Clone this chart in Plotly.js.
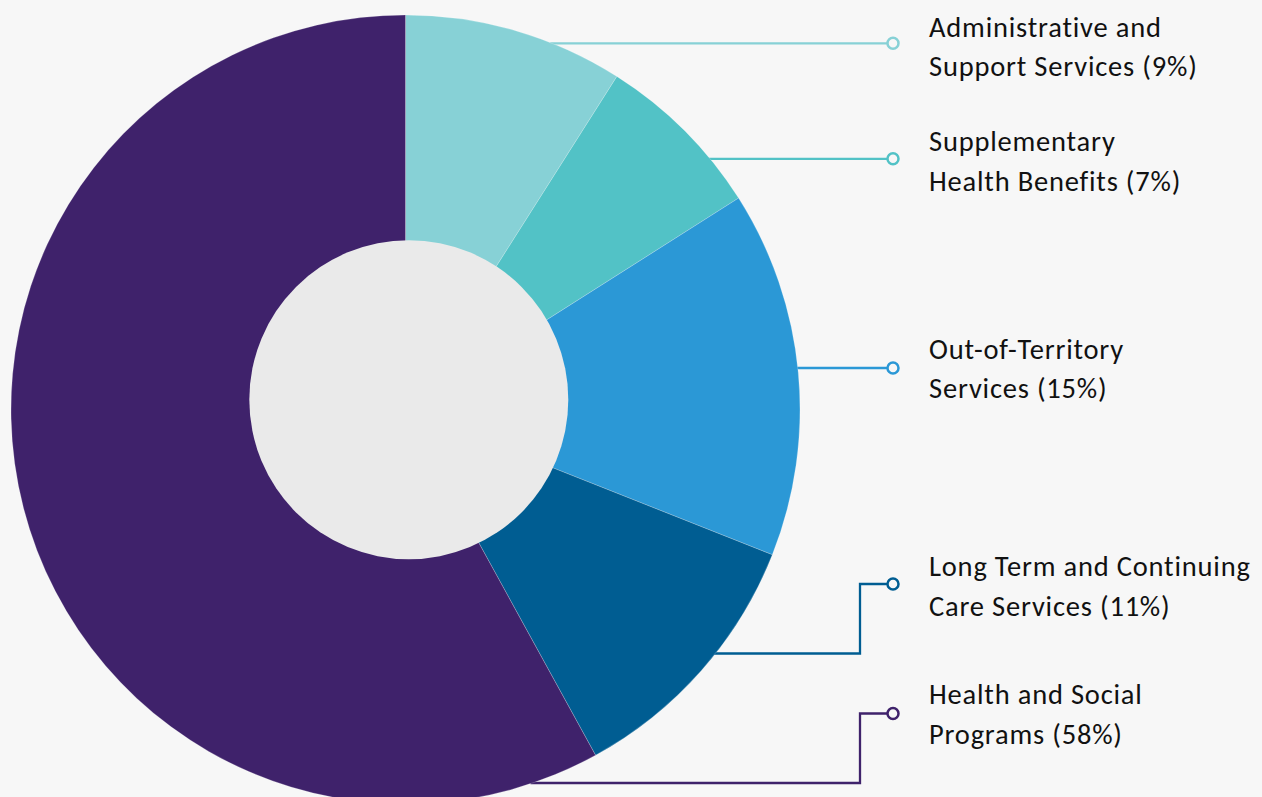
<!DOCTYPE html>
<html>
<head>
<meta charset="utf-8">
<script src="https://cdn.plot.ly/plotly-3.0.1.min.js"></script>
<style>
html,body{margin:0;padding:0;background:#f7f7f7;overflow:hidden;}
#chart{width:1262px;height:822px;}
#chart .annotation-text{letter-spacing:0.8px;}
</style>
</head>
<body>
<div id="chart"></div>
<script>
// ---- data ----
const categories = [
  "Administrative and Support Services",
  "Supplementary Health Benefits",
  "Out-of-Territory Services",
  "Long Term and Continuing Care Services",
  "Health and Social Programs"
];
const values = [9, 7, 15, 11, 58];
const labelLines = [
  ["Administrative and", "Support Services (9%)"],
  ["Supplementary", "Health Benefits (7%)"],
  ["Out-of-Territory", "Services (15%)"],
  ["Long Term and Continuing", "Care Services (11%)"],
  ["Health and Social", "Programs (58%)"]
];
const colors = ["#87d1d6", "#52c2c6", "#2b98d6", "#005d92", "#3f226b"];

// ---- layout geometry (pixels) ----
const W = 1262, H = 822;
const CX = 405.5, CY = 409.5, R = 394.5;          // pie centre / radius
const HOLE = {cx: 408.8, cy: 399.7, r: 159.5};     // inner disc
const px = x => x / W;
const py = y => 1 - y / H;

// leader-line geometry: y where line leaves the pie, elbow x, dot position
const leaderY   = [43.3, 158.8, 368, 653.5, 783];
const dotY      = [43.3, 158.8, 368, 584, 713.5];
const elbowX    = 860;
const dotX      = 893;
const textX     = 927;
const textBase  = [[37.3, 76.7], [151, 191], [359.3, 398.3], [576, 616], [704, 744]];

const trace = {
  type: "pie",
  labels: categories,
  values: values,
  sort: false,
  direction: "clockwise",
  rotation: 0,
  hole: 0.3,
  textinfo: "none",
  hoverinfo: "label+percent",
  marker: {colors: colors, line: {color: "rgba(255,255,255,0.35)", width: 0.6}},
  domain: {x: [px(CX - R), px(CX + R)], y: [py(CY + R), py(CY - R)]},
  showlegend: false
};

const shapes = [];
const annotations = [];

// inner disc
shapes.push({
  type: "circle", xref: "paper", yref: "paper", layer: "above",
  x0: px(HOLE.cx - HOLE.r), x1: px(HOLE.cx + HOLE.r),
  y0: py(HOLE.cy + HOLE.r), y1: py(HOLE.cy - HOLE.r),
  fillcolor: "#eaeaea", line: {width: 0}
});

for (let i = 0; i < categories.length; i++) {
  const ly = leaderY[i];
  const sx = CX + Math.sqrt(Math.max(0, R * R - (ly - CY) * (ly - CY))) - 2;
  let path;
  if (Math.abs(ly - dotY[i]) < 1) {
    path = `M ${px(sx)} ${py(ly)} L ${px(dotX - 5)} ${py(ly)}`;
  } else {
    path = `M ${px(sx)} ${py(ly)} L ${px(elbowX)} ${py(ly)} L ${px(elbowX)} ${py(dotY[i])} L ${px(dotX - 5)} ${py(dotY[i])}`;
  }
  shapes.push({
    type: "path", xref: "paper", yref: "paper", layer: "below",
    path: path, line: {color: colors[i], width: 2.3}
  });
  shapes.push({
    type: "circle", xref: "paper", yref: "paper", layer: "above",
    x0: px(dotX - 5.5), x1: px(dotX + 5.5), y0: py(dotY[i] + 5.5), y1: py(dotY[i] - 5.5),
    fillcolor: "#f7f7f7", line: {color: colors[i], width: 2.5}
  });
  labelLines[i].forEach((t, j) => {
    annotations.push({
      xref: "paper", yref: "paper",
      x: px(textX), y: py(textBase[i][j] - 10),
      xanchor: "left", yanchor: "middle", align: "left",
      text: t, showarrow: false,
      font: {family: "Carlito, Lato, 'Open Sans', sans-serif", size: 28.5, color: "#111111"}
    });
  });
}

const layout = {
  width: W, height: H,
  margin: {l: 0, r: 0, t: 0, b: 0},
  paper_bgcolor: "#f7f7f7",
  plot_bgcolor: "#f7f7f7",
  shapes: shapes,
  annotations: annotations,
  showlegend: false
};

Plotly.newPlot("chart", [trace], layout, {displayModeBar: false, staticPlot: true});
</script>
</body>
</html>
